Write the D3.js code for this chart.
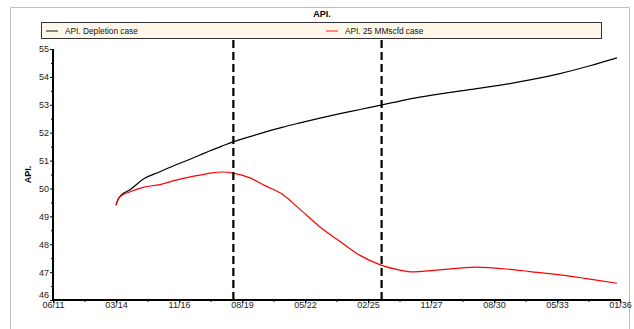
<!DOCTYPE html>
<html lang="en">
<head>
<meta charset="UTF-8">
<title>API.</title>
<script src="https://d3js.org/d3.v7.min.js"></script>
<style>
  body { margin: 0; background: #fff; }
  svg { display: block; font-family: "Liberation Sans", Arial, sans-serif; }
</style>
</head>
<body>
<svg width="634" height="329"></svg>
<script>
  // dates, shared by both series
  const dates = [
    '2014-03-06', '2014-04-07', '2014-05-24', '2014-10-15', '2015-05-09',
    '2016-02-02', '2016-10-14', '2017-04-23', '2017-10-30', '2018-04-07',
    '2018-10-15', '2019-04-07', '2020-01-01', '2020-08-26', '2021-05-23',
    '2022-03-05', '2023-01-16', '2023-11-30', '2024-10-12', '2025-09-10',
    '2026-07-09', '2026-12-15', '2028-04-04', '2029-10-11', '2031-04-19',
    '2032-03-01', '2033-06-21', '2034-10-10', '2035-12-12'
  ];
  const depletion = [
    49.4, 49.6, 49.75, 49.95, 50.33,
    50.6, 50.85, 51.02, 51.2, 51.35,
    51.52, 51.67, 51.86, 52.02, 52.19,
    52.35, 52.52, 52.68, 52.83, 52.99,
    53.13, 53.21, 53.39, 53.57, 53.76,
    53.89, 54.12, 54.4, 54.68
  ];
  const case25 = [
    49.4, 49.6, 49.73, 49.88, 50.04,
    50.14, 50.3, 50.4, 50.48, 50.55,
    50.59, 50.55, 50.38, 50.1, 49.8,
    49.25, 48.62, 48.1, 47.6, 47.25,
    47.07, 47.01, 47.08, 47.18, 47.1,
    47.02, 46.9, 46.75, 46.6
  ];
  const xTickDates = [
    '2011-06-10', '2014-03-06', '2016-11-30', '2019-08-27', '2022-05-23',
    '2025-02-16', '2027-11-13', '2030-08-09', '2033-05-05', '2036-01-30'
  ];
  const xTickLabels = ['06/11', '03/14', '11/16', '08/19', '05/22', '02/25', '11/27', '08/30', '05/33', '01/36'];
  const yTicks = [46, 47, 48, 49, 50, 51, 52, 53, 54, 55];
  const markerDates = ['2019-04-12', '2025-09-20'];
  const seriesNames = ['API. Depletion case', 'API. 25 MMscfd case'];

  const parse = d3.timeParse('%Y-%m-%d');
  const svg = d3.select('svg');

  const plotL = 53, plotR = 620, plotT = 49, plotB = 300;

  // outer frame
  svg.append('path')
    .attr('d', 'M10.5,329 V7.5 H629.5 V329')
    .attr('fill', 'none')
    .attr('stroke', '#bdbdbd');

  svg.append('text')
    .attr('x', 322)
    .attr('y', 17)
    .attr('text-anchor', 'middle')
    .attr('font-size', 9)
    .attr('font-weight', 'bold')
    .text('API.');

  // legend
  svg.append('rect')
    .attr('x', 41.5).attr('y', 22.5)
    .attr('width', 560).attr('height', 16)
    .attr('fill', '#fdf8ea')
    .attr('stroke', '#333');

  const legendX = [46, 326];
  const colors = ['#000', '#ff0000'];
  seriesNames.forEach((name, i) => {
    svg.append('line')
      .attr('x1', legendX[i]).attr('x2', legendX[i] + 12)
      .attr('y1', 31).attr('y2', 31)
      .attr('stroke', colors[i])
      .attr('stroke-opacity', 0.7)
      .attr('stroke-width', 1.3);
    svg.append('text')
      .attr('x', legendX[i] + 19)
      .attr('y', 34)
      .attr('font-size', 8.3)
      .attr('fill', '#111')
      .text(name);
  });

  const x = d3.scaleTime()
    .domain([parse(xTickDates[0]), parse(xTickDates[xTickDates.length - 1])])
    .range([plotL, plotR]);

  const y = d3.scaleLinear()
    .domain([46, 55])
    .range([plotB, plotT]);

  // minor ticks
  const minorX = [];
  for (let i = 0; i < xTickDates.length - 1; i++) {
    const a = parse(xTickDates[i]), b = parse(xTickDates[i + 1]);
    minorX.push(new Date((+a + +b) / 2));
  }
  svg.append('g')
    .attr('transform', `translate(0, ${plotB})`)
    .call(d3.axisBottom(x).tickValues(minorX).tickSize(2).tickFormat(''))
    .call(g => g.select('.domain').remove());

  const minorY = yTicks.slice(0, -1).map(v => v + 0.5);
  svg.append('g')
    .attr('transform', `translate(${plotL}, 0)`)
    .call(d3.axisLeft(y).tickValues(minorY).tickSize(2).tickFormat(''))
    .call(g => g.select('.domain').remove());

  // x axis
  const xAxis = svg.append('g')
    .attr('transform', `translate(0, ${plotB})`)
    .call(d3.axisBottom(x)
      .tickValues(xTickDates.map(parse))
      .tickSize(3)
      .tickPadding(0)
      .tickFormat((d, i) => xTickLabels[i]));
  xAxis.select('.domain').attr('stroke-width', 2).attr('d', `M${plotL},0H${plotR + 1}`);
  xAxis.selectAll('text').attr('y', 2).attr('font-size', 9).attr('fill', '#222').attr('font-family', 'Liberation Sans, Arial, sans-serif');

  // y axis
  const yAxis = svg.append('g')
    .attr('transform', `translate(${plotL}, 0)`)
    .call(d3.axisLeft(y).tickValues(yTicks).tickSize(3).tickPadding(1));
  yAxis.select('.domain').attr('stroke-width', 2).attr('d', `M0,${plotT}V${plotB + 1}`);
  yAxis.selectAll('text').attr('font-size', 9).attr('fill', '#222').attr('font-family', 'Liberation Sans, Arial, sans-serif');
  yAxis.selectAll('.tick').filter(d => d === 46).select('text').attr('dy', '-0.3em');

  svg.append('text')
    .attr('transform', `translate(31, ${(plotT + plotB) / 2}) rotate(-90)`)
    .attr('text-anchor', 'middle')
    .attr('font-size', 9)
    .attr('font-weight', 'bold')
    .text('API.');

  // series
  const line = d3.line()
    .x(d => x(d[0]))
    .y(d => y(d[1]))
    .curve(d3.curveMonotoneX);

  [depletion, case25].forEach((vals, i) => {
    svg.append('path')
      .datum(dates.map((d, j) => [parse(d), vals[j]]))
      .attr('fill', 'none')
      .attr('stroke', colors[i])
      .attr('stroke-width', 1.2)
      .attr('d', line);
  });

  // vertical dashed markers
  markerDates.forEach(d => {
    svg.append('line')
      .attr('x1', x(parse(d))).attr('x2', x(parse(d)))
      .attr('y1', 40).attr('y2', plotB)
      .attr('stroke', '#000')
      .attr('stroke-width', 2.2)
      .attr('stroke-dasharray', '8,4');
  });
</script>
</body>
</html>
